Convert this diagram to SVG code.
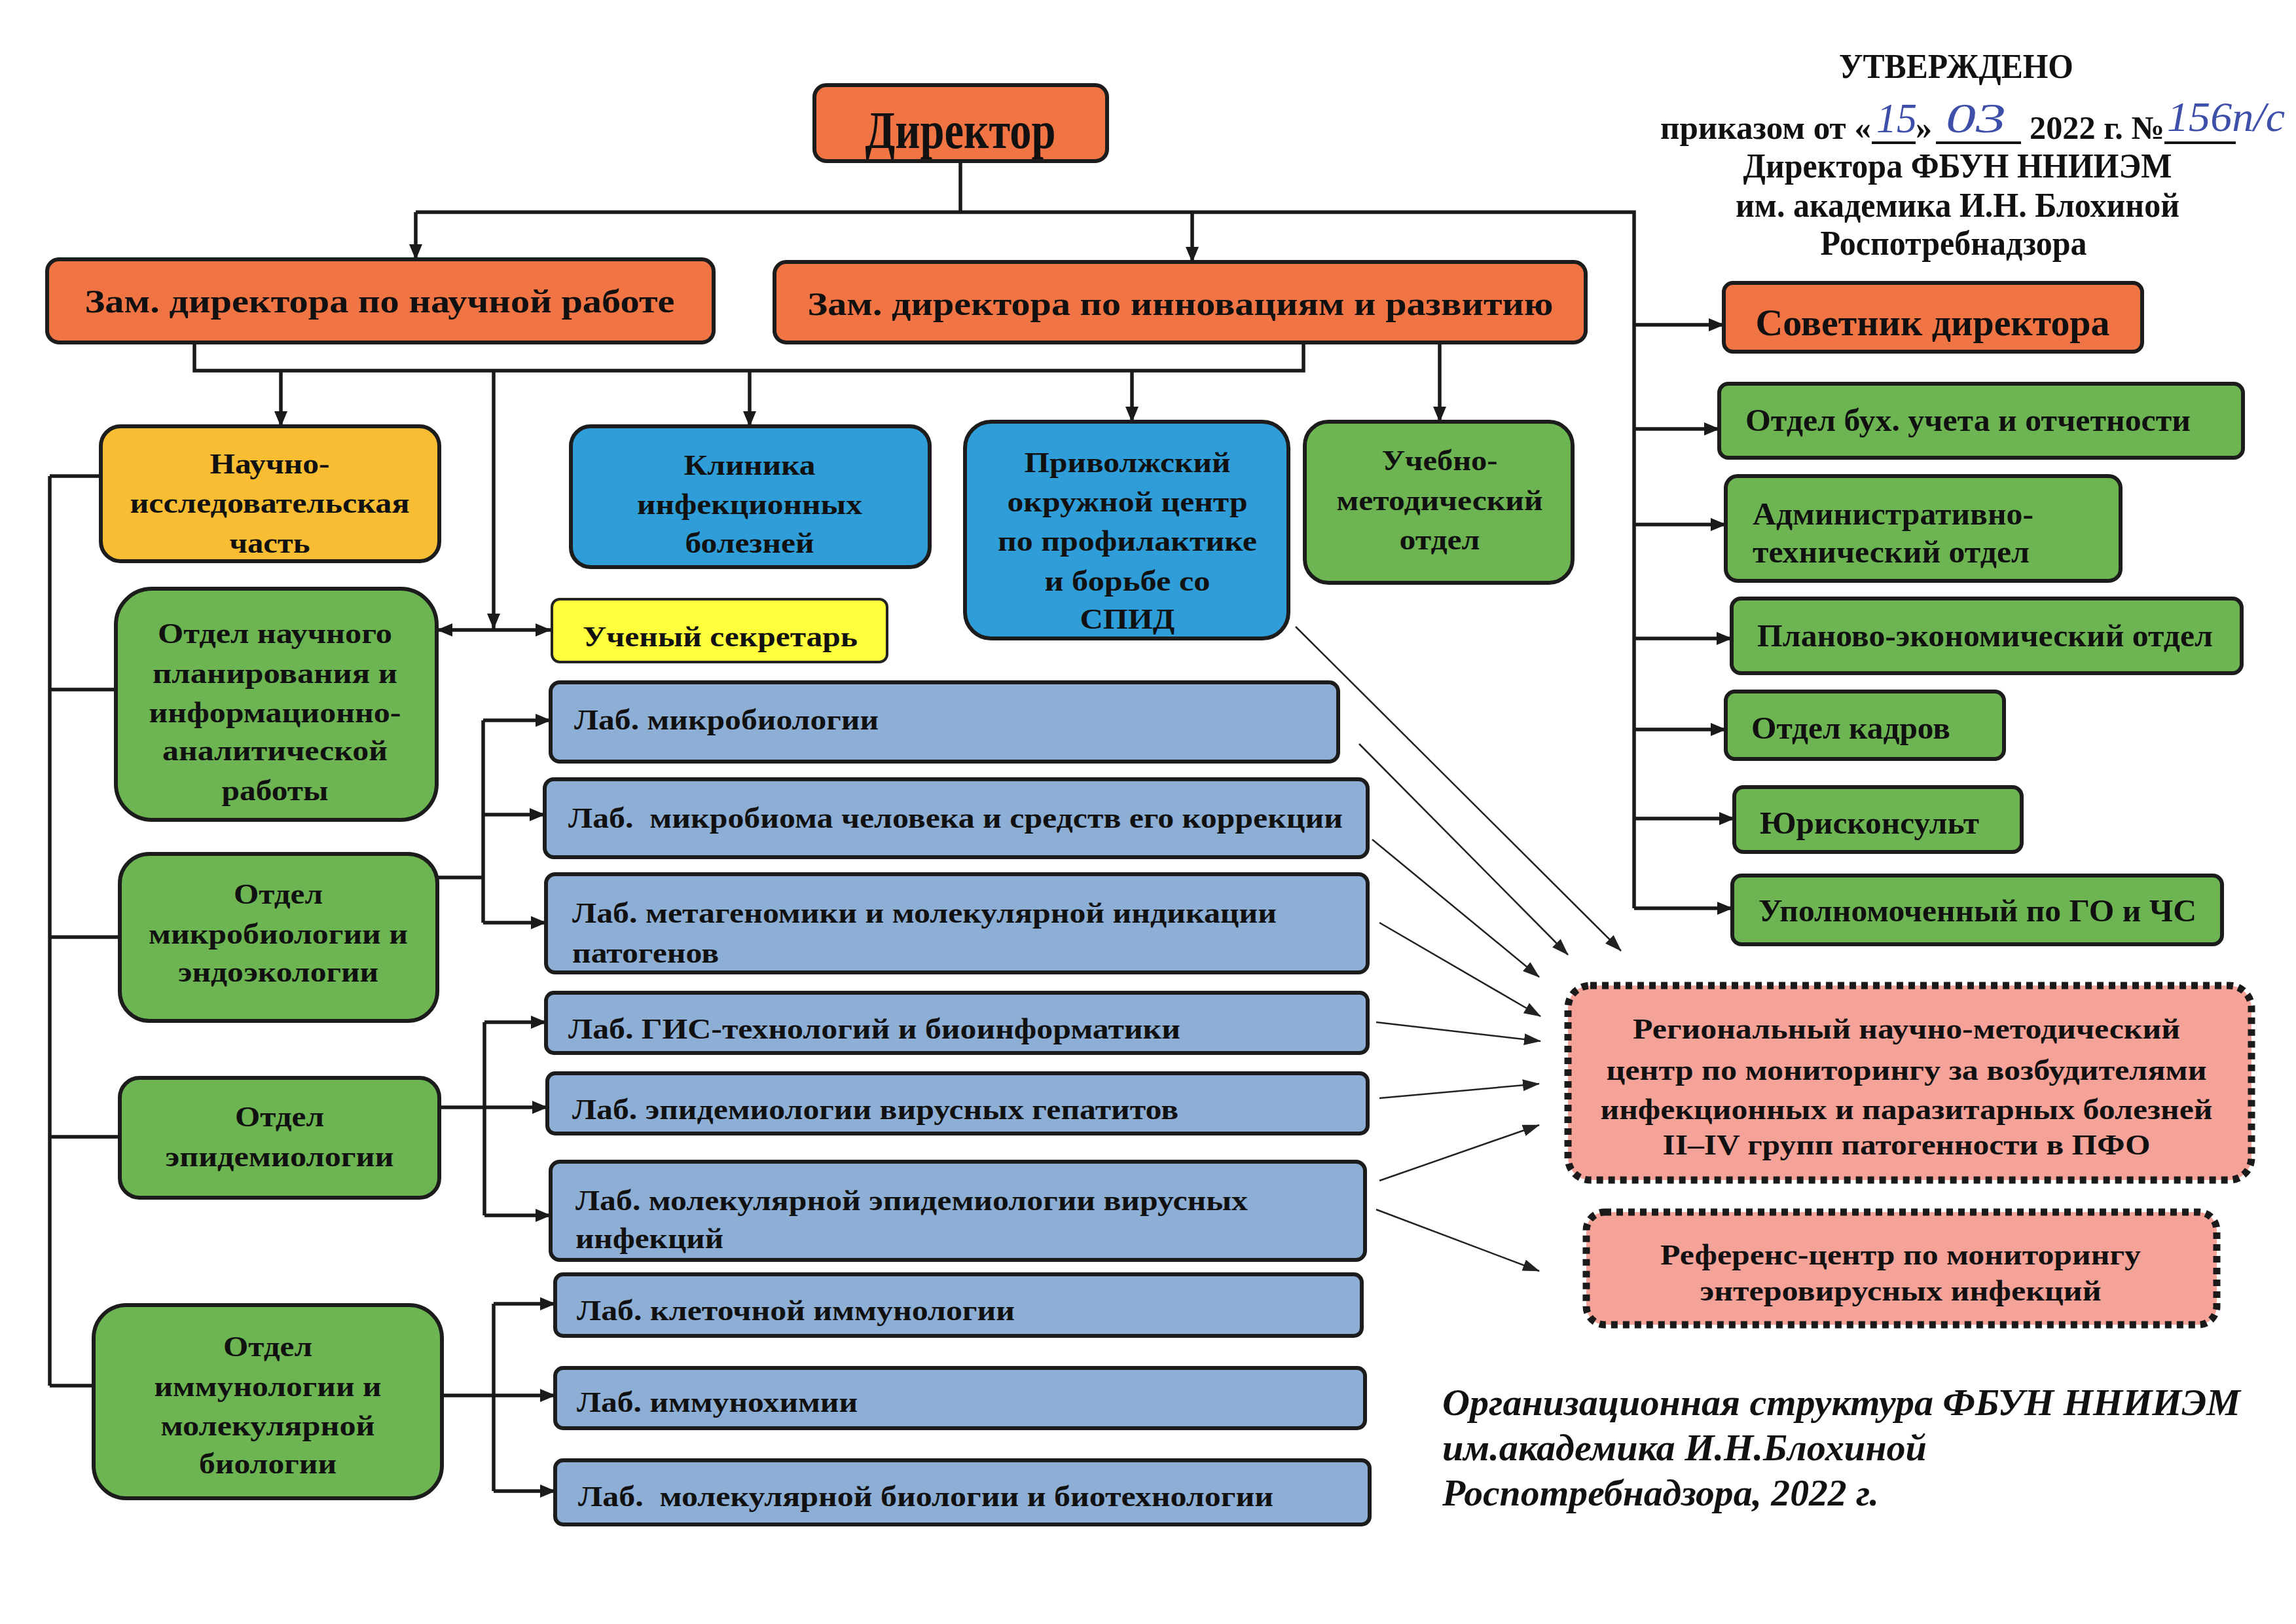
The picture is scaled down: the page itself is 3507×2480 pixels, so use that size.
<svg xmlns="http://www.w3.org/2000/svg" width="3507" height="2480" viewBox="0 0 3507 2480">
<defs>
<style>
.box{stroke:#1c1c1c;stroke-width:6}
.or{fill:#F07444}
.yo{fill:#F8BD33}
.bl{fill:#2F9ED8}
.gr{fill:#6CB552}
.ye{fill:#FFFF3C}
.lab{fill:#8EAFD5}
.red{fill:#F5A299;stroke:#1a1a1a;stroke-width:11;stroke-dasharray:10 8}
.t{font-family:"Liberation Serif","DejaVu Serif",serif;font-weight:bold;fill:#111}
.c{text-anchor:middle}
.n{font-size:44px}
.conn path{stroke:#1a1a1a;stroke-width:5.5;fill:none}
.thin path{stroke:#222;stroke-width:2.5;fill:none}
.hw{font-family:"Liberation Serif","DejaVu Serif",serif;font-style:italic;fill:#3d4fa8;font-size:64px}
</style>
<marker id="ah" markerUnits="userSpaceOnUse" viewBox="0 0 24 20" markerWidth="24" markerHeight="20" refX="23" refY="10" orient="auto"><path d="M0,0 L24,10 L0,20 z" fill="#1a1a1a"/></marker>
<marker id="ah2" markerUnits="userSpaceOnUse" viewBox="0 0 24 20" markerWidth="24" markerHeight="20" refX="23" refY="10" orient="auto-start-reverse"><path d="M0,0 L24,10 L0,20 z" fill="#1a1a1a"/></marker>
<marker id="at" markerUnits="userSpaceOnUse" viewBox="0 0 26 18" markerWidth="26" markerHeight="18" refX="25" refY="9" orient="auto"><path d="M0,0 L26,9 L0,18 z" fill="#222"/></marker>
</defs>
<rect width="3507" height="2480" fill="#ffffff"/>

<g id="approval">
<text class="t c" x="2988" y="119" font-size="52" textLength="358" lengthAdjust="spacingAndGlyphs">УТВЕРЖДЕНО</text>
<text class="t" x="2536" y="212" font-size="50" textLength="322" lengthAdjust="spacingAndGlyphs">приказом от «</text>
<text class="hw" x="2866" y="202" textLength="62" lengthAdjust="spacingAndGlyphs">15</text>
<text class="t" x="2926" y="212" font-size="50">»</text>
<text class="hw" x="2972" y="202" textLength="92" lengthAdjust="spacingAndGlyphs">03</text>
<text class="t" x="3100" y="212" font-size="50" textLength="206" lengthAdjust="spacingAndGlyphs">2022 г. №</text>
<text class="hw" x="3310" y="200" textLength="180" lengthAdjust="spacingAndGlyphs">156п/с</text>
<path d="M2859,218 H2926 M2957,218 H3087 M3306,218 H3415" stroke="#111" stroke-width="4" fill="none"/>
<text class="t c" x="2990" y="271" font-size="52" textLength="655" lengthAdjust="spacingAndGlyphs">Директора ФБУН ННИИЭМ</text>
<text class="t c" x="2990" y="331" font-size="52" textLength="678" lengthAdjust="spacingAndGlyphs">им. академика И.Н. Блохиной</text>
<text class="t c" x="2984" y="389" font-size="52" textLength="407" lengthAdjust="spacingAndGlyphs">Роспотребнадзора</text>
</g>

<g id="connectors">
<g class="conn">
<path d="M1467,246 V324"/>
<path d="M635,324 H2496 V1387"/>
<path d="M635,324 V396" marker-end="url(#ah)"/>
<path d="M1821,324 V400" marker-end="url(#ah)"/>
<path d="M2496,496 H2633" marker-end="url(#ah)"/>
<path d="M2496,655 H2626" marker-end="url(#ah)"/>
<path d="M2496,801 H2636" marker-end="url(#ah)"/>
<path d="M2496,975 H2645" marker-end="url(#ah)"/>
<path d="M2496,1114 H2636" marker-end="url(#ah)"/>
<path d="M2496,1250 H2649" marker-end="url(#ah)"/>
<path d="M2496,1387 H2646" marker-end="url(#ah)"/>
<path d="M297,523 V566 H1991 V523"/>
<path d="M429,566 V651" marker-end="url(#ah)"/>
<path d="M1145,566 V651" marker-end="url(#ah)"/>
<path d="M1729,566 V644" marker-end="url(#ah)"/>
<path d="M754,566 V960" marker-end="url(#ah)"/>
<path d="M2199,523 V644" marker-end="url(#ah)"/>
<path d="M668,962 H841" marker-start="url(#ah2)" marker-end="url(#ah2)"/>
<path d="M76,727 V2116"/>
<path d="M76,727 H154"/>
<path d="M76,1053 H177"/>
<path d="M76,1431 H184"/>
<path d="M76,1736 H184"/>
<path d="M76,2116 H144"/>
<path d="M668,1340 H738"/>
<path d="M738,1100 V1409"/>
<path d="M738,1100 H841" marker-end="url(#ah)"/>
<path d="M738,1244 H832" marker-end="url(#ah)"/>
<path d="M738,1409 H834" marker-end="url(#ah)"/>
<path d="M671,1691 H836" marker-end="url(#ah)"/>
<path d="M740,1561 V1856"/>
<path d="M740,1561 H834" marker-end="url(#ah)"/>
<path d="M740,1856 H841" marker-end="url(#ah)"/>
<path d="M675,2131 H848" marker-end="url(#ah)"/>
<path d="M754,1991 V2277"/>
<path d="M754,1991 H848" marker-end="url(#ah)"/>
<path d="M754,2277 H848" marker-end="url(#ah)"/>
</g>
<g class="thin">
<path d="M1979,957 L2476,1452" marker-end="url(#at)"/>
<path d="M2076,1136 L2395,1458" marker-end="url(#at)"/>
<path d="M2096,1282 L2351,1492" marker-end="url(#at)"/>
<path d="M2107,1409 L2353,1552" marker-end="url(#at)"/>
<path d="M2102,1561 L2353,1590" marker-end="url(#at)"/>
<path d="M2107,1677 L2351,1655" marker-end="url(#at)"/>
<path d="M2107,1803 L2351,1718" marker-end="url(#at)"/>
<path d="M2102,1847 L2351,1941" marker-end="url(#at)"/>
</g>
</g>

<g id="director"><rect class="box or" x="1244" y="130" width="447" height="116" rx="18"/>
<text class="t c" x="1467" y="226" font-size="80" textLength="291" lengthAdjust="spacingAndGlyphs">Директор</text></g>

<g id="zam-science"><rect class="box or" x="72" y="396" width="1018" height="127" rx="18"/>
<text class="t c" x="580" y="477" font-size="50" textLength="901" lengthAdjust="spacingAndGlyphs">Зам. директора по научной работе</text></g>

<g id="zam-innov"><rect class="box or" x="1183" y="400" width="1239" height="123" rx="18"/>
<text class="t c" x="1803" y="481" font-size="50" textLength="1139" lengthAdjust="spacingAndGlyphs">Зам. директора по инновациям и развитию</text></g>

<g id="nauchno"><rect class="box yo" x="154" y="651" width="517" height="206" rx="30"/>
<text class="t c n" x="412" y="723" textLength="183" lengthAdjust="spacingAndGlyphs">Научно-</text>
<text class="t c n" x="412" y="783" textLength="427" lengthAdjust="spacingAndGlyphs">исследовательская</text>
<text class="t c n" x="412" y="844" textLength="123" lengthAdjust="spacingAndGlyphs">часть</text></g>

<g id="clinic"><rect class="box bl" x="872" y="651" width="548" height="215" rx="30"/>
<text class="t c n" x="1145" y="725" textLength="201" lengthAdjust="spacingAndGlyphs">Клиника</text>
<text class="t c n" x="1145" y="785" textLength="344" lengthAdjust="spacingAndGlyphs">инфекционных</text>
<text class="t c n" x="1145" y="844" textLength="197" lengthAdjust="spacingAndGlyphs">болезней</text></g>

<g id="aids"><rect class="box bl" x="1474" y="644" width="494" height="331" rx="40"/>
<text class="t c n" x="1722" y="721" textLength="315" lengthAdjust="spacingAndGlyphs">Приволжский</text>
<text class="t c n" x="1722" y="781" textLength="367" lengthAdjust="spacingAndGlyphs">окружной центр</text>
<text class="t c n" x="1722" y="841" textLength="396" lengthAdjust="spacingAndGlyphs">по профилактике</text>
<text class="t c n" x="1722" y="902" textLength="253" lengthAdjust="spacingAndGlyphs">и борьбе со</text>
<text class="t c n" x="1722" y="960" textLength="145" lengthAdjust="spacingAndGlyphs">СПИД</text></g>

<g id="uchebno"><rect class="box gr" x="1993" y="644" width="409" height="246" rx="36"/>
<text class="t c n" x="2199" y="718" textLength="177" lengthAdjust="spacingAndGlyphs">Учебно-</text>
<text class="t c n" x="2199" y="779" textLength="315" lengthAdjust="spacingAndGlyphs">методический</text>
<text class="t c n" x="2199" y="839" textLength="123" lengthAdjust="spacingAndGlyphs">отдел</text></g>

<g id="secretary"><rect x="843" y="915" width="512" height="96" rx="12" class="ye" stroke="#222" stroke-width="4"/>
<text class="t c n" x="1100" y="987" textLength="420" lengthAdjust="spacingAndGlyphs">Ученый секретарь</text></g>

<g id="dept-planning"><rect class="box gr" x="177" y="899" width="490" height="353" rx="55"/>
<text class="t c n" x="420" y="982" textLength="358" lengthAdjust="spacingAndGlyphs">Отдел научного</text>
<text class="t c n" x="420" y="1043" textLength="374" lengthAdjust="spacingAndGlyphs">планирования и</text>
<text class="t c n" x="420" y="1103" textLength="385" lengthAdjust="spacingAndGlyphs">информационно-</text>
<text class="t c n" x="420" y="1161" textLength="344" lengthAdjust="spacingAndGlyphs">аналитической</text>
<text class="t c n" x="420" y="1222" textLength="163" lengthAdjust="spacingAndGlyphs">работы</text></g>

<g id="dept-micro"><rect class="box gr" x="183" y="1304" width="485" height="255" rx="45"/>
<text class="t c n" x="425" y="1380" textLength="136" lengthAdjust="spacingAndGlyphs">Отдел</text>
<text class="t c n" x="425" y="1441" textLength="396" lengthAdjust="spacingAndGlyphs">микробиологии и</text>
<text class="t c n" x="425" y="1499" textLength="306" lengthAdjust="spacingAndGlyphs">эндоэкологии</text></g>

<g id="dept-epid"><rect class="box gr" x="183" y="1646" width="488" height="183" rx="30"/>
<text class="t c n" x="427" y="1720" textLength="136" lengthAdjust="spacingAndGlyphs">Отдел</text>
<text class="t c n" x="427" y="1781" textLength="349" lengthAdjust="spacingAndGlyphs">эпидемиологии</text></g>

<g id="dept-immuno"><rect class="box gr" x="143" y="1993" width="532" height="295" rx="50"/>
<text class="t c n" x="409" y="2071" textLength="136" lengthAdjust="spacingAndGlyphs">Отдел</text>
<text class="t c n" x="409" y="2132" textLength="347" lengthAdjust="spacingAndGlyphs">иммунологии и</text>
<text class="t c n" x="409" y="2192" textLength="327" lengthAdjust="spacingAndGlyphs">молекулярной</text>
<text class="t c n" x="409" y="2250" textLength="210" lengthAdjust="spacingAndGlyphs">биологии</text></g>

<g id="lab1"><rect class="box lab" x="841" y="1042" width="1203" height="121" rx="14"/>
<text class="t n" x="877" y="1114" textLength="465" lengthAdjust="spacingAndGlyphs">Лаб. микробиологии</text></g>
<g id="lab2"><rect class="box lab" x="832" y="1190" width="1257" height="119" rx="14"/>
<text class="t n" x="868" y="1264" textLength="1183" lengthAdjust="spacingAndGlyphs" xml:space="preserve">Лаб.  микробиома человека и средств его коррекции</text></g>
<g id="lab3"><rect class="box lab" x="834" y="1335" width="1255" height="150" rx="14"/>
<text class="t n" x="874" y="1409" textLength="1076" lengthAdjust="spacingAndGlyphs">Лаб. метагеномики и молекулярной индикации</text>
<text class="t n" x="874" y="1470" textLength="224" lengthAdjust="spacingAndGlyphs">патогенов</text></g>
<g id="lab4"><rect class="box lab" x="834" y="1516" width="1255" height="92" rx="12"/>
<text class="t n" x="868" y="1586" textLength="935" lengthAdjust="spacingAndGlyphs">Лаб. ГИС-технологий и биоинформатики</text></g>
<g id="lab5"><rect class="box lab" x="836" y="1639" width="1253" height="92" rx="12"/>
<text class="t n" x="874" y="1709" textLength="926" lengthAdjust="spacingAndGlyphs">Лаб. эпидемиологии вирусных гепатитов</text></g>
<g id="lab6"><rect class="box lab" x="841" y="1774" width="1244" height="150" rx="14"/>
<text class="t n" x="879" y="1848" textLength="1027" lengthAdjust="spacingAndGlyphs">Лаб. молекулярной эпидемиологии вирусных</text>
<text class="t n" x="879" y="1906" textLength="226" lengthAdjust="spacingAndGlyphs">инфекций</text></g>
<g id="lab7"><rect class="box lab" x="848" y="1946" width="1232" height="94" rx="12"/>
<text class="t n" x="881" y="2016" textLength="669" lengthAdjust="spacingAndGlyphs">Лаб. клеточной иммунологии</text></g>
<g id="lab8"><rect class="box lab" x="848" y="2089" width="1237" height="92" rx="12"/>
<text class="t n" x="881" y="2156" textLength="429" lengthAdjust="spacingAndGlyphs">Лаб. иммунохимии</text></g>
<g id="lab9"><rect class="box lab" x="848" y="2230" width="1244" height="98" rx="12"/>
<text class="t n" x="883" y="2300" textLength="1062" lengthAdjust="spacingAndGlyphs" xml:space="preserve">Лаб.  молекулярной биологии и биотехнологии</text></g>

<g id="advisor"><rect class="box or" x="2633" y="432" width="639" height="105" rx="14"/>
<text class="t c" x="2952" y="512" font-size="56" textLength="541" lengthAdjust="spacingAndGlyphs">Советник директора</text></g>
<g id="accounting"><rect class="box gr" x="2626" y="586" width="800" height="113" rx="14"/>
<text class="t" x="2666" y="658" font-size="48" textLength="680" lengthAdjust="spacingAndGlyphs">Отдел бух. учета и отчетности</text></g>
<g id="admin"><rect class="box gr" x="2636" y="727" width="603" height="160" rx="18"/>
<text class="t" x="2677" y="801" font-size="48" textLength="429" lengthAdjust="spacingAndGlyphs">Административно-</text>
<text class="t" x="2677" y="859" font-size="48" textLength="423" lengthAdjust="spacingAndGlyphs">технический отдел</text></g>
<g id="planning-econ"><rect class="box gr" x="2645" y="914" width="779" height="114" rx="14"/>
<text class="t" x="2684" y="987" font-size="48" textLength="696" lengthAdjust="spacingAndGlyphs">Планово-экономический отдел</text></g>
<g id="hr"><rect class="box gr" x="2636" y="1056" width="425" height="103" rx="14"/>
<text class="t" x="2675" y="1128" font-size="48" textLength="304" lengthAdjust="spacingAndGlyphs">Отдел кадров</text></g>
<g id="legal"><rect class="box gr" x="2649" y="1202" width="439" height="99" rx="14"/>
<text class="t" x="2688" y="1273" font-size="48" textLength="335" lengthAdjust="spacingAndGlyphs">Юрисконсульт</text></g>
<g id="civil-defense"><rect class="box gr" x="2646" y="1337" width="748" height="105" rx="14"/>
<text class="t" x="2686" y="1407" font-size="48" textLength="669" lengthAdjust="spacingAndGlyphs">Уполномоченный по ГО и ЧС</text></g>

<g id="regional-center"><rect class="red" x="2395" y="1505" width="1044" height="297" rx="34"/>
<text class="t c n" x="2912" y="1586" textLength="836" lengthAdjust="spacingAndGlyphs">Региональный научно-методический</text>
<text class="t c n" x="2912" y="1649" textLength="917" lengthAdjust="spacingAndGlyphs">центр по мониторингу за возбудителями</text>
<text class="t c n" x="2912" y="1709" textLength="935" lengthAdjust="spacingAndGlyphs">инфекционных и паразитарных болезней</text>
<text class="t c n" x="2912" y="1763" textLength="745" lengthAdjust="spacingAndGlyphs">II–IV групп патогенности в ПФО</text></g>

<g id="reference-center"><rect class="red" x="2423" y="1851" width="963" height="172" rx="28"/>
<text class="t c n" x="2903" y="1931" textLength="734" lengthAdjust="spacingAndGlyphs">Референс-центр по мониторингу</text>
<text class="t c n" x="2903" y="1986" textLength="613" lengthAdjust="spacingAndGlyphs">энтеровирусных инфекций</text></g>

<g id="caption">
<text class="t" x="2203" y="2161" font-size="58" font-style="italic" textLength="1219" lengthAdjust="spacingAndGlyphs">Организационная структура ФБУН ННИИЭМ</text>
<text class="t" x="2203" y="2230" font-size="58" font-style="italic" textLength="740" lengthAdjust="spacingAndGlyphs">им.академика И.Н.Блохиной</text>
<text class="t" x="2203" y="2299" font-size="58" font-style="italic" textLength="667" lengthAdjust="spacingAndGlyphs">Роспотребнадзора, 2022 г.</text>
</g>
</svg>
